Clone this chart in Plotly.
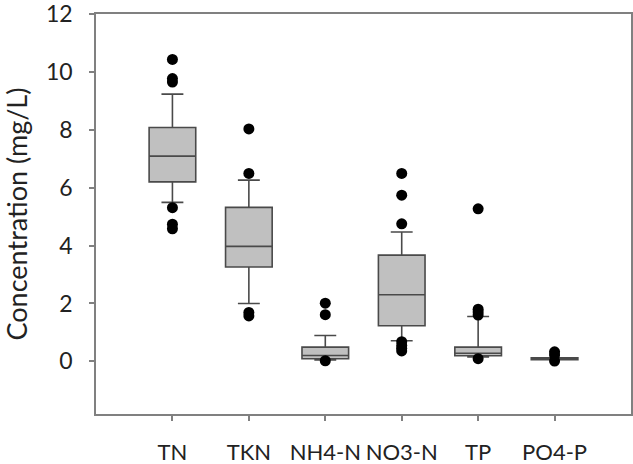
import plotly.graph_objects as go

categories = ["TN", "TKN", "NH4-N", "NO3-N", "TP", "PO4-P"]
positions = [1, 2, 3, 4, 5, 6]
q1 = [6.20, 3.26, 0.09, 1.23, 0.19, 0.06]
median = [7.09, 3.97, 0.20, 2.30, 0.28, 0.09]
q3 = [8.08, 5.32, 0.49, 3.67, 0.49, 0.12]
lower_whisker = [5.49, 2.00, 0.05, 0.71, 0.15, 0.06]
upper_whisker = [9.23, 6.26, 0.89, 4.47, 1.55, 0.12]

outliers = {
    "TN": [10.43, 9.77, 9.65, 5.31, 4.74, 4.58],
    "TKN": [8.03, 6.49, 1.69, 1.57],
    "NH4-N": [2.01, 1.61, 0.02],
    "NO3-N": [6.49, 5.74, 4.75, 0.68, 0.55, 0.45, 0.36],
    "TP": [5.27, 1.80, 1.70, 1.60, 0.09],
    "PO4-P": [0.33, 0.22, 0.01],
}

fig = go.Figure()
fig.add_trace(go.Box(
    x=positions, q1=q1, median=median, q3=q3,
    lowerfence=lower_whisker, upperfence=upper_whisker,
    boxpoints=False, width=0.61, whiskerwidth=0.47,
    fillcolor="#c0c0c0", line=dict(color="#4a4a4a", width=1.6),
    showlegend=False,
))

ox, oy = [], []
for p, c in zip(positions, categories):
    for v in outliers[c]:
        ox.append(p)
        oy.append(v)
fig.add_trace(go.Scatter(
    x=ox, y=oy, mode="markers",
    marker=dict(color="black", size=11),
    showlegend=False, cliponaxis=False,
))

font = "Lato, 'Open Sans', sans-serif"
fig.update_layout(
    width=633, height=464,
    margin=dict(l=96, r=2, t=14, b=50),
    plot_bgcolor="white", paper_bgcolor="white",
    font=dict(family=font, size=25, color="#222222"),
)
fig.update_xaxes(
    range=[0, 7], tickmode="array", tickvals=positions, ticktext=categories,
    showline=True, mirror=True, linecolor="#808080", linewidth=1.5,
    ticks="outside", ticklen=5, tickcolor="#808080", tickwidth=1.5,
    ticklabelstandoff=13, showgrid=False, zeroline=False, tickangle=0,
    tickfont=dict(size=22), ticklabeloverflow="allow", automargin=False,
)
fig.update_yaxes(
    range=[-1.82, 12], tickmode="array", tickvals=[0, 2, 4, 6, 8, 10, 12],
    showline=True, mirror=True, linecolor="#808080", linewidth=1.5,
    ticks="outside", ticklen=5, tickcolor="#808080", tickwidth=1.5,
    ticklabelstandoff=12, showgrid=False, zeroline=False, automargin=False,
    ticklabeloverflow="allow", tickfont=dict(size=23),
    title=dict(text="Concentration (mg/L)", standoff=16, font=dict(size=27)),
)

fig.write_html("out.html")
